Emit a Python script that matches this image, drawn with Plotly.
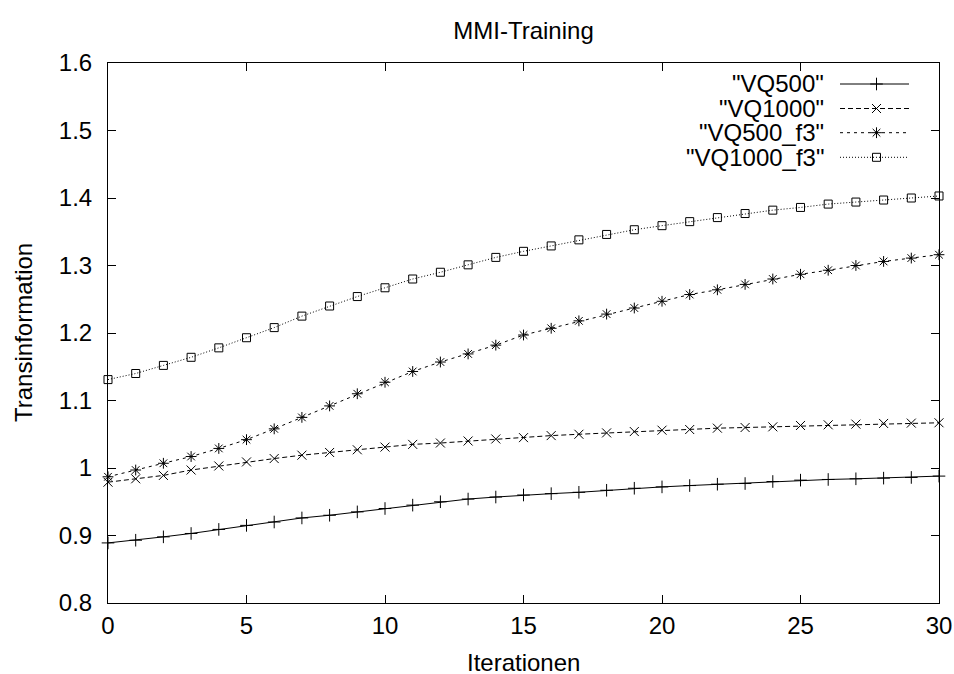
import plotly.graph_objects as go

iterations = list(range(31))

vq500 = [0.889, 0.893, 0.898, 0.903, 0.909, 0.915, 0.920, 0.926, 0.930, 0.935, 0.940,
         0.945, 0.950, 0.954, 0.957, 0.960, 0.962, 0.964, 0.967, 0.970, 0.972,
         0.974, 0.976, 0.977, 0.980, 0.982, 0.983, 0.984, 0.985, 0.986, 0.988]
vq1000 = [0.979, 0.984, 0.989, 0.997, 1.003, 1.009, 1.014, 1.019, 1.023, 1.027, 1.031,
          1.035, 1.037, 1.040, 1.043, 1.045, 1.048, 1.050, 1.052, 1.054, 1.056,
          1.057, 1.059, 1.060, 1.061, 1.063, 1.064, 1.065, 1.066, 1.0665, 1.067]
vq500_f3 = [0.987, 0.997, 1.007, 1.017, 1.029, 1.042, 1.058, 1.075, 1.092, 1.110, 1.127,
            1.143, 1.157, 1.169, 1.182, 1.197, 1.207, 1.218, 1.228, 1.237, 1.247,
            1.257, 1.264, 1.272, 1.280, 1.287, 1.293, 1.300, 1.306, 1.311, 1.316]
vq1000_f3 = [1.131, 1.140, 1.152, 1.164, 1.178, 1.193, 1.208, 1.225, 1.240, 1.254, 1.267,
             1.280, 1.290, 1.301, 1.312, 1.321, 1.329, 1.338, 1.346, 1.353, 1.359,
             1.365, 1.371, 1.377, 1.382, 1.386, 1.391, 1.394, 1.397, 1.400, 1.403]

series_names = ['"VQ500"', '"VQ1000"', '"VQ500_f3"', '"VQ1000_f3"']
series_values = [vq500, vq1000, vq500_f3, vq1000_f3]
dashes = ["solid", "5px,3px", "3px,4px", "1px,2px"]
symbols = ["cross-thin-open", "x-thin-open", "asterisk-open", "square-open"]
msizes = [9, 9, 9, 8]

x_ticks = [0, 5, 10, 15, 20, 25, 30]
y_ticks = [0.8, 0.9, 1.0, 1.1, 1.2, 1.3, 1.4, 1.5, 1.6]
y_tick_labels = ["0.8", "0.9", "1", "1.1", "1.2", "1.3", "1.4", "1.5", "1.6"]

W, H = 954, 674
L, R, T, B = 108, 15, 63, 71
PW, PH = W - L - R, H - T - B
FONT = "Liberation Sans, Arial, Helvetica, sans-serif"
FS = 24

fig = go.Figure()
for name, vals, dash, sym, ms in zip(series_names, series_values, dashes, symbols, msizes):
    fig.add_trace(go.Scatter(
        x=iterations, y=vals, mode="lines+markers", name=name, showlegend=False,
        line=dict(color="black", width=1, dash=dash),
        marker=dict(symbol=sym, size=ms, color="black", line=dict(color="black", width=1)),
        cliponaxis=False,
    ))

def px(xp):
    return (xp - L) / PW

def py(yp):
    return (H - B - yp) / PH

# custom gnuplot-style legend (text right, sample to the right)
legend_rows = [84, 108.5, 132.7, 157.3]
text_right = 826
samp_l, samp_r, samp_m = 840, 909, 876.5
annotations = []
shapes = []
for i, (name, dash, sym, ms) in enumerate(zip(series_names, dashes, symbols, msizes)):
    yy = legend_rows[i]
    annotations.append(dict(
        text=name, xref="paper", yref="paper", x=px(text_right), y=py(yy),
        xanchor="right", yanchor="middle", showarrow=False,
        font=dict(family=FONT, size=FS, color="black")))
    shapes.append(dict(type="line", xref="paper", yref="paper",
                       x0=px(samp_l), x1=px(samp_r), y0=py(yy), y1=py(yy),
                       line=dict(color="black", width=1, dash=dash)))
    fig.add_trace(go.Scatter(
        x=[px(samp_m)], y=[py(yy)], xaxis="x2", yaxis="y2", mode="markers",
        showlegend=False, hoverinfo="skip", cliponaxis=False,
        marker=dict(symbol=sym, size=ms, color="black", line=dict(color="black", width=1))))

annotations.append(dict(text="Iterationen", xref="paper", yref="paper", x=0.5, y=py(662),
                        xanchor="center", yanchor="middle", showarrow=False,
                        height=22, valign="middle",
                        font=dict(family=FONT, size=FS, color="black")))
annotations.append(dict(text="Transinformation", xref="paper", yref="paper", x=px(23), y=0.5,
                        xanchor="center", yanchor="middle", showarrow=False, textangle=-90,
                        font=dict(family=FONT, size=FS, color="black")))

axis_common = dict(showgrid=False, zeroline=False, showline=True, linecolor="black",
                   linewidth=1, mirror="allticks", ticks="inside", ticklen=8,
                   tickcolor="black", tickwidth=1, automargin=False,
                   tickfont=dict(family=FONT, size=FS, color="black"))

fig.update_layout(
    width=W, height=H, margin=dict(l=L, r=R, t=T, b=B, autoexpand=False),
    paper_bgcolor="white", plot_bgcolor="white",
    font=dict(family=FONT, size=FS, color="black"),
    title=dict(text="MMI-Training", x=(L + PW / 2) / W, xanchor="center",
               y=1 - 31 / H, yanchor="middle", yref="container",
               font=dict(family=FONT, size=FS, color="black")),
    xaxis=dict(range=[0, 30], tickvals=x_ticks, ticktext=[str(v) for v in x_ticks],
               ticklabelstandoff=1, **axis_common),
    yaxis=dict(range=[0.8, 1.6], tickvals=y_ticks, ticktext=y_tick_labels,
               ticklabelstandoff=10, **axis_common),
    xaxis2=dict(range=[0, 1], overlaying="x", visible=False, domain=[0, 1]),
    yaxis2=dict(range=[0, 1], overlaying="y", visible=False, domain=[0, 1]),
    annotations=annotations, shapes=shapes, showlegend=False,
)

fig.write_html("out.html")
